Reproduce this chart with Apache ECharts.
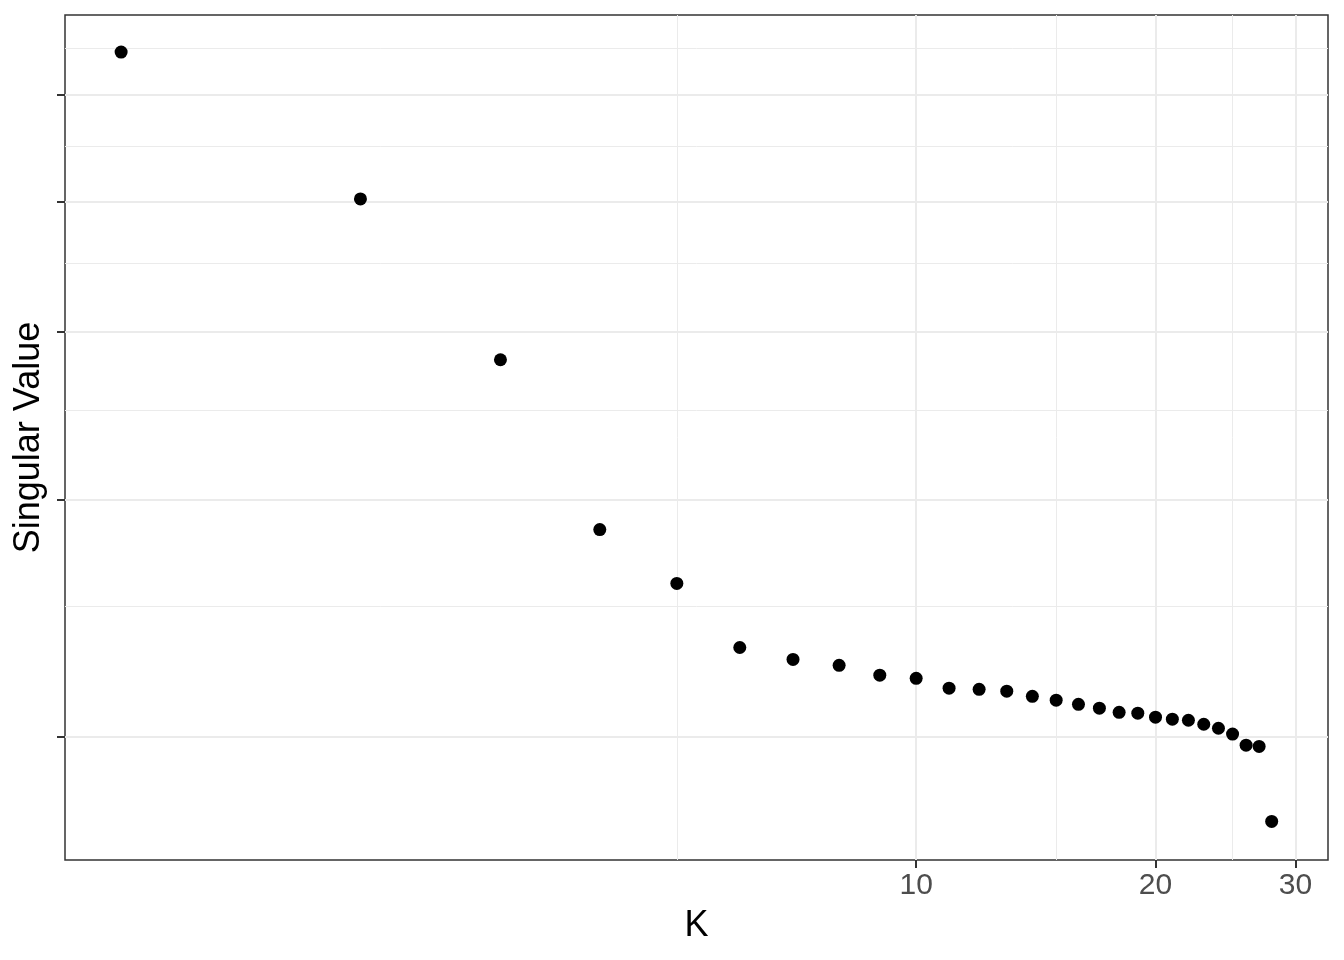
<!DOCTYPE html>
<html>
<head>
<meta charset="utf-8">
<script src="https://cdn.jsdelivr.net/npm/echarts@6/dist/echarts.min.js"></script>
<style>
html,body{margin:0;padding:0;background:#fff;}
#chart{width:1344px;height:960px;}
</style>
</head>
<body>
<div id="chart"></div>
<script>
// K values (x, log scale)
const kValues = [1,2,3,4,5,6,7,8,9,10,11,12,13,14,15,16,17,18,19,20,21,22,23,24,25,26,27,28];
// Singular values (y, log scale)
const singularValues = [6.457,5.022,3.814,2.852,2.601,2.331,2.284,2.261,2.223,2.211,2.174,2.170,2.163,2.144,2.130,2.115,2.101,2.086,2.083,2.069,2.062,2.058,2.044,2.030,2.010,1.972,1.968,1.731];
// Axis breaks
const xMajorBreaks = [10,20,30];
const xMinorBreaks = [5,15,25];
const yMajorBreaks = [2,3,4,5,6];
const yMinorBreaks = [2.5,3.5,4.5,5.5,6.5];

const points = kValues.map((k,i)=>[k, singularValues[i]]);

const gridColor = '#EBEBEB';
const lines = [];
xMajorBreaks.forEach(v=>lines.push({xAxis:v, lineStyle:{color:gridColor,width:2,type:'solid'}}));
xMinorBreaks.forEach(v=>lines.push({xAxis:v, lineStyle:{color:gridColor,width:1,type:'solid'}}));
yMajorBreaks.forEach(v=>lines.push({yAxis:v, lineStyle:{color:gridColor,width:2,type:'solid'}}));
yMinorBreaks.forEach(v=>lines.push({yAxis:v, lineStyle:{color:gridColor,width:1,type:'solid'}}));

const chart = echarts.init(document.getElementById('chart'), null, {renderer:'canvas'});
chart.setOption({
  animation:false,
  backgroundColor:'#fff',
  grid:{left:65, right:16, top:15, bottom:100, show:true, borderColor:'#333333', borderWidth:1.5, backgroundColor:'transparent', containLabel:false},
  xAxis:{
    type:'log', logBase:10, min:0.850, max:32.96,
    name:'K', nameLocation:'middle', nameGap:48,
    nameTextStyle:{fontFamily:'Liberation Sans', fontSize:36, color:'#000'},
    axisLine:{show:false},
    axisTick:{show:true, customValues:xMajorBreaks, length:8, lineStyle:{color:'#333333', width:2}},
    axisLabel:{show:true, customValues:xMajorBreaks, fontFamily:'Liberation Sans', fontSize:30, color:'#4D4D4D', margin:11},
    splitLine:{show:false}, minorSplitLine:{show:false}
  },
  yAxis:{
    type:'log', logBase:10, min:1.6203, max:6.880,
    name:'Singular Value', nameLocation:'middle', nameGap:18,
    nameTextStyle:{fontFamily:'Liberation Sans', fontSize:36, color:'#000'},
    axisLine:{show:false},
    axisTick:{show:true, customValues:yMajorBreaks, length:8, lineStyle:{color:'#333333', width:2}},
    axisLabel:{show:false},
    splitLine:{show:false}, minorSplitLine:{show:false}
  },
  series:[
    {
      type:'scatter', z:1, data:[], silent:true,
      markLine:{silent:true, symbol:'none', label:{show:false}, animation:false, data:lines}
    },
    {
      type:'scatter', z:10, data:points, symbol:'circle', symbolSize:13,
      itemStyle:{color:'#000', opacity:1}, silent:true
    }
  ]
});
</script>
</body>
</html>
